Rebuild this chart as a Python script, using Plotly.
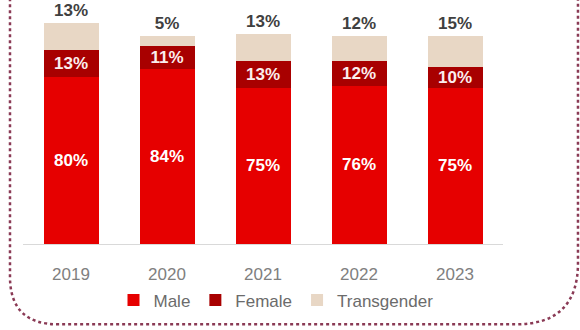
import plotly.graph_objects as go

years = ["2019", "2020", "2021", "2022", "2023"]
male = [80, 84, 75, 76, 75]
female = [13, 11, 13, 12, 10]
transgender = [13, 5, 13, 12, 15]

W, H = 580, 330
ML, MR, MT, MB = 23, 77, 15, 84
PW, PH = W - ML - MR, H - MT - MB

def px(x, y):
    return (x - ML) / PW, (H - MB - y) / PH

FONT = "Liberation Sans"

fig = go.Figure()
fig.add_bar(x=years, y=male, name="Male", marker_color="#E60000",
            marker_line_width=0,
            text=[f"{v}%" for v in male], textposition="inside",
            insidetextanchor="middle",
            textfont=dict(color="white", size=17, family=FONT, weight="bold"))
fig.add_bar(x=years, y=female, name="Female", marker_color="#A80000",
            marker_line_width=0,
            text=[f"{v}%" for v in female], textposition="inside",
            insidetextanchor="middle",
            textfont=dict(color="#fbeeee", size=17, family=FONT, weight="bold"))
fig.add_bar(x=years, y=transgender, name="Transgender", marker_color="#E8D7C5",
            marker_line_width=0,
            text=[f"{v}%" for v in transgender], textposition="outside",
            textfont=dict(color="#404040", size=17, family=FONT, weight="bold"),
            cliponaxis=False)

# dotted rounded border
L, R, B, T = 10, 578, 327, -20
rl, rr = 48, 62
def P(x, y):
    a, b = px(x, y)
    return f"{a:.4f},{b:.4f}"
path = (f"M {P(L, T)} L {P(L, B - rl)} Q {P(L, B)} {P(L + rl, B)} "
        f"L {P(R - rr, B)} Q {P(R, B)} {P(R, B - rr)} L {P(R, T)}")
fig.add_shape(type="path", path=path, xref="paper", yref="paper",
              line=dict(color="#8a3a55", width=2.5, dash="dot"), layer="below")

fig.update_layout(
    width=W, height=H,
    margin=dict(l=ML, r=MR, t=MT, b=MB),
    barmode="stack", bargap=0.427,
    plot_bgcolor="white", paper_bgcolor="white",
    uniformtext=dict(minsize=17, mode="show"),
    showlegend=True,
    legend=dict(orientation="h", x=px(276, 0)[0], xanchor="center",
                y=px(0, 303)[1], yanchor="middle",
                font=dict(size=17, color="#6b6b6b", family=FONT),
                itemwidth=30, tracegroupgap=0, traceorder="normal"),
    font=dict(family=FONT),
)
fig.update_xaxes(showline=True, linecolor="#d9d9d9", linewidth=1,
                 ticks="outside", ticklen=15, tickcolor="rgba(0,0,0,0)",
                 tickfont=dict(size=17, color="#808080", family=FONT))
fig.update_yaxes(range=[0, 110], visible=False, showgrid=False)

fig.write_html("out.html")
